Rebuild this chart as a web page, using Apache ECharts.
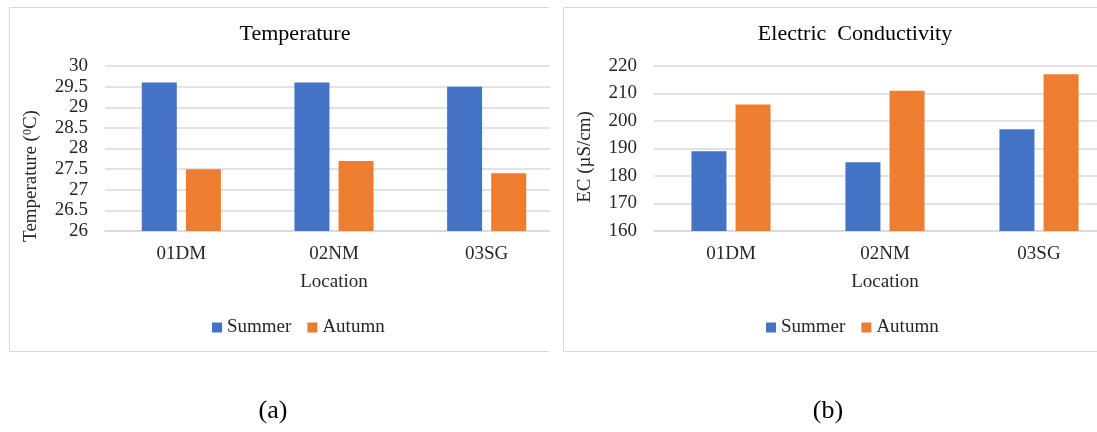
<!DOCTYPE html>
<html><head><meta charset="utf-8">
<script src="https://cdn.jsdelivr.net/npm/echarts@6/dist/echarts.min.js"></script>
<style>html,body{margin:0;padding:0;background:#fff}#c{width:1097px;height:432px}</style>
</head><body><div id="c"></div>
<script>
// ---- data ----
const categories = ['01DM', '02NM', '03SG'];
const seriesNames = ['Summer', 'Autumn'];
const tempSummer = [29.6, 29.6, 29.5];
const tempAutumn = [27.5, 27.7, 27.4];
const ecSummer = [189, 185, 197];
const ecAutumn = [206, 211, 217];
const tempAxis = { min: 26, max: 30, interval: 0.5 };
const ecAxis = { min: 160, max: 220, interval: 10 };
const titles = ['Temperature', 'Electric  Conductivity'];
const xName = 'Location';
const captions = ['(a)', '(b)'];

// ---- style ----
const FONT = '"Liberation Serif","Times New Roman",serif';
const TXT = '#262626';
const GRID = '#d9d9d9';
const BLUE = '#4472C4', ORANGE = '#ED7D31';

const chart = echarts.init(document.getElementById('c'), null, { renderer: 'canvas' });

function xAxisCfg(idx) {
  return {
    type: 'category', gridIndex: idx, data: categories,
    axisTick: { show: false },
    axisLine: { lineStyle: { color: GRID, width: 1.5 } },
    axisLabel: { fontFamily: FONT, fontSize: 19, color: TXT, margin: 14, interval: 0 },
    name: xName, nameLocation: 'middle', nameGap: 42,
    nameTextStyle: { fontFamily: FONT, fontSize: 19, color: TXT }
  };
}
function yAxisCfg(idx, ax) {
  return {
    type: 'value', gridIndex: idx, min: ax.min, max: ax.max, interval: ax.interval,
    axisLine: { show: false }, axisTick: { show: false },
    splitLine: { lineStyle: { color: GRID, width: 1.5 } },
    axisLabel: { fontFamily: FONT, fontSize: 19, color: TXT, margin: 17 }
  };
}
function bar(name, data, idx, color) {
  return {
    type: 'bar', name, data, xAxisIndex: idx, yAxisIndex: idx,
    barWidth: 35, barGap: '26%',
    itemStyle: { color }
  };
}
function legendCfg(left) {
  return {
    data: seriesNames, left, top: 318, padding: 0,
    icon: 'rect', itemWidth: 10, itemHeight: 10, itemGap: 16,
    textStyle: { fontFamily: FONT, fontSize: 19, color: TXT }
  };
}
function txt(text, x, y, size, fill, extra) {
  return Object.assign({
    type: 'text', x, y, z: 110,
    style: { text, font: size + 'px ' + FONT, fill: fill, textAlign: 'center', textVerticalAlign: 'middle' }
  }, extra || {});
}
function line(x1, y1, x2, y2) {
  return { type: 'line', z: 105, shape: { x1, y1, x2, y2 }, style: { stroke: GRID, lineWidth: 1 } };
}

const option = {
  animation: false,
  backgroundColor: '#fff',
  grid: [
    { left: 105, top: 66, width: 458, height: 165, containLabel: false, outerBoundsMode: 'none' },
    { left: 654, top: 66, width: 462, height: 165, containLabel: false, outerBoundsMode: 'none' }
  ],
  xAxis: [xAxisCfg(0), xAxisCfg(1)],
  yAxis: [yAxisCfg(0, tempAxis), yAxisCfg(1, ecAxis)],
  legend: [legendCfg(212), legendCfg(766)],
  series: [
    bar(seriesNames[0], tempSummer, 0, BLUE),
    bar(seriesNames[1], tempAutumn, 0, ORANGE),
    bar(seriesNames[0], ecSummer, 1, BLUE),
    bar(seriesNames[1], ecAutumn, 1, ORANGE)
  ],
  graphic: [
    // gap between the two cropped panels
    { type: 'rect', z: 100, shape: { x: 550, y: 0, width: 14, height: 360 }, style: { fill: '#fff' } },
    // panel borders
    line(9.5, 7.5, 549.5, 7.5), line(9.5, 7.5, 9.5, 351.5), line(9.5, 351.5, 549.5, 351.5),
    line(563.5, 7.5, 1097, 7.5), line(563.5, 7.5, 563.5, 351.5), line(563.5, 351.5, 1097, 351.5),
    // titles
    txt(titles[0], 295, 34, 22, '#000'),
    txt(titles[1], 855, 34, 22, '#000'),
    // y axis names
    {
      type: 'text', x: 31, y: 176, rotation: Math.PI / 2, z: 110,
      style: {
        text: '{n|Temperature (}{s|0}{n|C)}', textAlign: 'center', textVerticalAlign: 'middle',
        rich: {
          n: { fontFamily: FONT, fontSize: 19, fill: TXT, verticalAlign: 'bottom' },
          s: { fontFamily: FONT, fontSize: 12, fill: TXT, verticalAlign: 'top' }
        }
      }
    },
    txt('EC (µS/cm)', 585, 157, 19, TXT, { rotation: Math.PI / 2 }),
    // captions
    txt(captions[0], 273, 411, 26, '#000'),
    txt(captions[1], 828, 411, 26, '#000')
  ]
};
chart.setOption(option);
</script>
</body></html>
